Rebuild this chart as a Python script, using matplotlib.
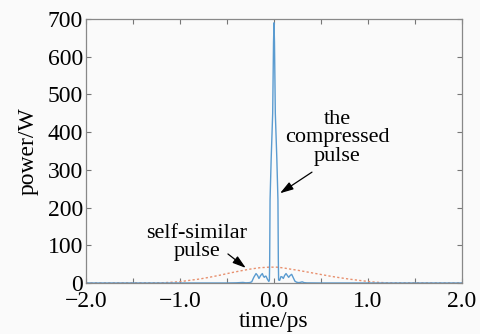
import matplotlib
matplotlib.use("Agg")
import matplotlib.pyplot as plt

# compressed pulse (time in ps, power in W)
t_comp = [-2.0, -0.50, -0.40, -0.33, -0.30, -0.26, -0.237, -0.215, -0.191, -0.175,
          -0.160, -0.142, -0.124, -0.113, -0.103, -0.094, -0.085, -0.070, -0.055,
          -0.049, -0.046, -0.042, -0.030, -0.014, -0.005, 0.0, 0.005, 0.014,
          0.030, 0.042, 0.046, 0.049, 0.060, 0.074, 0.087, 0.099, 0.113, 0.128,
          0.142, 0.156, 0.172, 0.188, 0.205, 0.222, 0.241, 0.265, 0.285, 0.300,
          0.320, 0.350, 0.50, 2.0]
p_comp = [0.0, 0.0, 0.5, 1.5, 0.5, 1.0, 3.0, 15.0, 25.0, 20.0,
          12.0, 20.0, 25.0, 18.0, 15.0, 18.0, 18.0, 10.0, 4.0,
          8.0, 60.0, 220.0, 330.0, 450.0, 640.0, 690.0, 640.0, 450.0,
          330.0, 220.0, 60.0, 8.0, 7.0, 17.0, 16.0, 12.0, 20.0, 25.0,
          20.0, 15.0, 20.0, 23.0, 14.0, 5.0, 2.0, 1.0, 2.0, 3.0,
          1.0, 0.3, 0.0, 0.0]

# self-similar pulse
t_ss = [-2.0, -1.2, -1.1, -1.0, -0.9, -0.79, -0.68, -0.57, -0.47, -0.36, -0.25,
        -0.15, -0.05, 0.03, 0.10, 0.17, 0.27, 0.38, 0.49, 0.60, 0.70, 0.81,
        0.92, 1.02, 1.10, 1.20, 2.0]
p_ss = [0.0, 0.5, 1.8, 3.5, 7.0, 10.6, 15.5, 21.0, 26.5, 32.0, 37.0,
        40.5, 42.0, 42.0, 40.0, 37.0, 33.0, 28.0, 23.0, 18.0, 14.0, 10.0,
        6.5, 3.5, 1.8, 0.5, 0.0]

x_ticks = [-2.0, -1.0, 0.0, 1.0, 2.0]
x_tick_labels = ["\u22122.0", "\u22121.0", "0.0", "1.0", "2.0"]
x_minor = [-1.5, -0.5, 0.5, 1.5]
y_ticks = [0, 100, 200, 300, 400, 500, 600, 700]

plt.rcParams['font.family'] = ['Liberation Serif', 'DejaVu Serif']

fig = plt.figure(figsize=(4.81, 3.34), dpi=100, facecolor='#fafafa')
ax = fig.add_axes([0.1788, 0.1527, 0.7817, 0.7903], facecolor='#fafafa')

ax.plot(t_ss, p_ss, color='#e8906e', lw=1.0, linestyle=(0, (1.6, 1.6)))
ax.plot(t_comp, p_comp, color='#5a9bd0', lw=1.0)

ax.set_xlim(-2.0, 2.0)
ax.set_ylim(0, 700)
ax.set_xticks(x_ticks)
ax.set_xticklabels(x_tick_labels)
ax.set_xticks(x_minor, minor=True)
ax.set_yticks(y_ticks)

ax.tick_params(which='both', direction='in', top=True, right=True,
               length=3.5, width=0.8, color='#777777', labelsize=17)
ax.tick_params(axis='x', pad=6)
ax.tick_params(axis='y', pad=2)
for s in ax.spines.values():
    s.set_color('#888888')
    s.set_linewidth(0.9)

ax.set_xlabel("time/ps", fontsize=17, labelpad=-1)
ax.set_ylabel("power/W", fontsize=17, labelpad=7)

# annotations: text and arrows placed separately
arrow = dict(arrowstyle='-|>,head_length=0.8,head_width=0.25', color='black',
             lw=0.9, shrinkA=0, shrinkB=0, mutation_scale=10)
ax.text(0.67, 385, "the\ncompressed\npulse", ha='center', va='center',
        fontsize=16, linespacing=0.95)
ax.annotate("", xy=(0.064, 238), xytext=(0.404, 294), arrowprops=arrow)
ax.text(-0.82, 107, "self-similar\npulse", ha='center', va='center',
        fontsize=16, linespacing=0.95)
ax.annotate("", xy=(-0.30, 40), xytext=(-0.49, 77), arrowprops=arrow)

fig.savefig("out.png", dpi=100, facecolor=fig.get_facecolor())
